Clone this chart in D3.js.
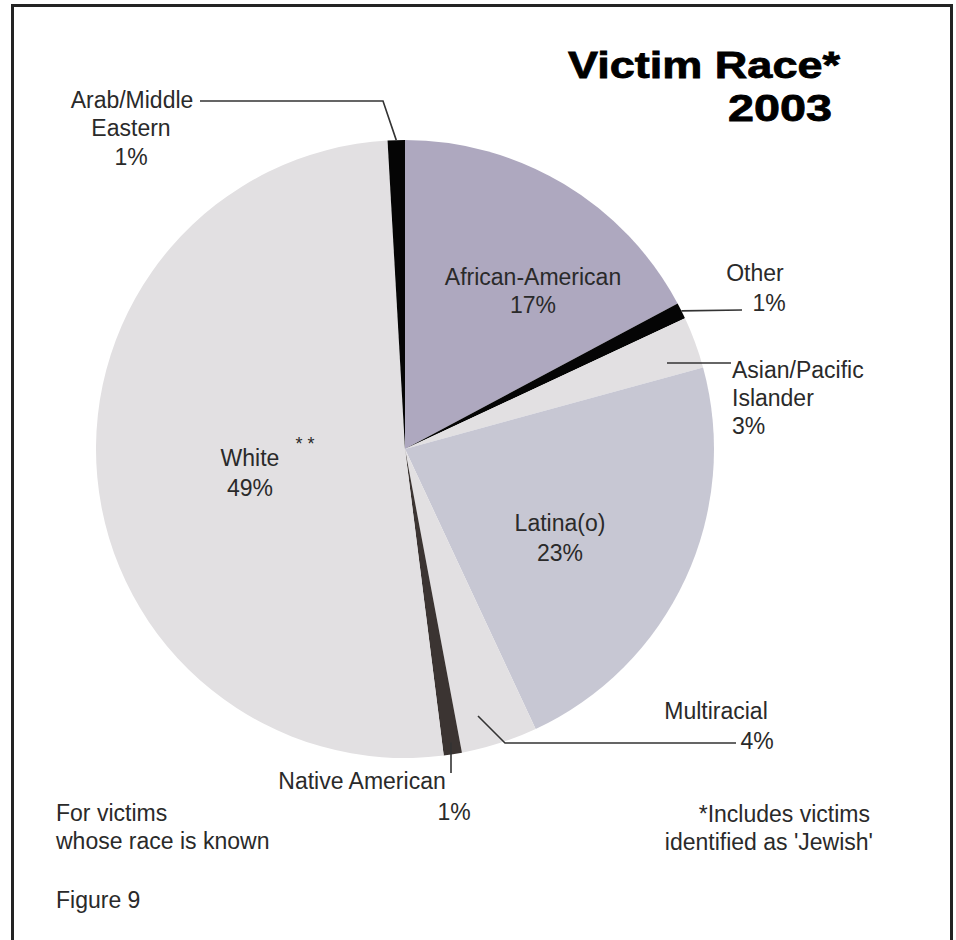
<!DOCTYPE html>
<html><head><meta charset="utf-8">
<script src="https://cdn.jsdelivr.net/npm/d3@7"></script>
<style>body{margin:0;background:#fff}svg{display:block}text{font-family:"Liberation Sans",Arial,sans-serif;fill:#2a2a2a}</style>
</head><body>
<script>
// Categories clockwise from 12 o'clock
const categories = ["African-American","Other","Asian/Pacific Islander","Latina(o)","Multiracial","Native American","White","Arab/Middle Eastern"];
// Slice sizes (share of the circle, %)
const shares = [17.2, 0.85, 2.7, 22.3, 4.0, 0.95, 51.1, 0.9];
// Percent labels printed on the chart
const pctLabels = ["17%","1%","3%","23%","4%","1%","49%","1%"];
const colors = ["#aea8bf","#050505","#e2e0e2","#c7c7d3","#e2e0e2","#3b3432","#e2e0e2","#050505"];

const W = 956, H = 940, cx = 405, cy = 449, R = 309;
const svg = d3.select("body").append("svg").attr("width", W).attr("height", H);

svg.append("rect").attr("x",12.5).attr("y",5.5).attr("width",939).attr("height",960)
  .attr("fill","none").attr("stroke","#232323").attr("stroke-width",3);

const pie = d3.pie().sort(null).value(d => d.v);
const data = pie(categories.map((c,i)=>({c, v: shares[i], p: pctLabels[i], col: colors[i]})));
const arc = d3.arc().innerRadius(0).outerRadius(R);
const g = svg.append("g").attr("transform",`translate(${cx},${cy})`);
g.selectAll("path").data(data).join("path").attr("d",arc).attr("fill",d=>d.data.col);

function pt(d, r){ const a=(d.startAngle+d.endAngle)/2; return [cx + r*Math.sin(a), cy - r*Math.cos(a)]; }
const line = d3.line();
const nat = pt(data[5], R-12);
const leaders = [
  [pt(data[7], R), [383,101], [200,101]],
  [pt(data[1], R), [742,310]],
  [[667,363], [731,363]],
  [[478,716], [505,743], [736,743]],
  [nat, [nat[0], 773]]
];
svg.selectAll("path.lead").data(leaders).join("path").attr("class","lead")
  .attr("d", line).attr("fill","none").attr("stroke","#333").attr("stroke-width",1.6);

function txt(x,y,s,anchor="middle",size=23){
  return svg.append("text").attr("x",x).attr("y",y).attr("text-anchor",anchor).attr("font-size",size).text(s);
}
// Title
svg.append("text").attr("x",568).attr("y",78).attr("font-size",37).attr("font-weight","bold")
  .attr("textLength",272).attr("lengthAdjust","spacingAndGlyphs").style("fill","#000").style("stroke","#000").style("stroke-width",0.8).text("Victim Race*");
svg.append("text").attr("x",728).attr("y",121).attr("font-size",37).attr("font-weight","bold")
  .attr("textLength",104).attr("lengthAdjust","spacingAndGlyphs").style("fill","#000").style("stroke","#000").style("stroke-width",0.8).text("2003");

// Slice labels
txt(132,108,"Arab/Middle"); txt(131,136,"Eastern"); txt(131,165,pctLabels[7]);
txt(533,285,"African-American"); txt(533,313,pctLabels[0]);
txt(755,281,"Other"); txt(769,311,pctLabels[1]);
txt(732,378,"Asian/Pacific","start"); txt(732,406,"Islander","start"); txt(732,434,pctLabels[2],"start");
txt(250,466,"White"); txt(305,450,"* *","middle",18); txt(250,496,pctLabels[6]);
txt(560,531,"Latina(o)"); txt(560,561,pctLabels[3]);
txt(716,719,"Multiracial"); txt(757,749,pctLabels[4]);
txt(362,789,"Native American"); txt(454,820,pctLabels[5]);
// Notes
txt(56,821,"For victims","start"); txt(56,849,"whose race is known","start");
txt(870,822,"*Includes victims","end"); txt(873,850,"identified as 'Jewish'","end");
txt(56,908,"Figure 9","start");
</script>
</body></html>
